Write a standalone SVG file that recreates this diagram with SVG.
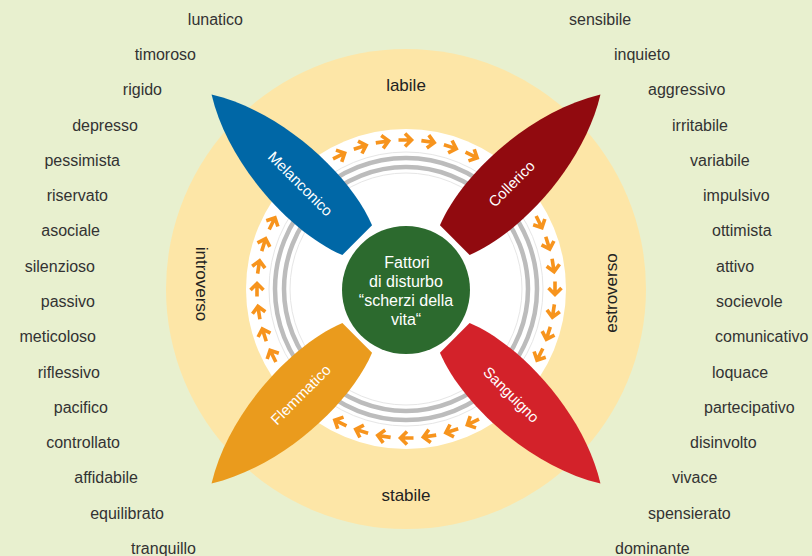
<svg xmlns="http://www.w3.org/2000/svg" xmlns:xlink="http://www.w3.org/1999/xlink" width="812" height="556" viewBox="0 0 812 556">
<style>
.w{font-family:"Liberation Sans",Arial,sans-serif;font-size:16px;fill:#333333}
.l{text-anchor:end}
.r{text-anchor:start}
.ax{font-family:"Liberation Sans",Arial,sans-serif;font-size:17px;fill:#222222;text-anchor:middle}
.pt{font-family:"Liberation Sans",Arial,sans-serif;font-size:15px;fill:#ffffff;text-anchor:middle;dominant-baseline:central}
.ct{font-family:"Liberation Sans",Arial,sans-serif;font-size:16px;fill:#ffffff;text-anchor:middle}
.ring{fill:none;stroke:#bcbcbc;stroke-width:4.5}
.faint{fill:none;stroke:#e6e6e6;stroke-width:1}
</style>
<defs>
<path id="petal" d="M69,-21 C118,-41 212,-39 275,0 C212,39 118,41 69,21 Z"/>
<path id="arr" d="M398.5,140 H411.5 M405,133.5 L411.5,140 L405,146.5" fill="none" stroke="#f7941d" stroke-width="3.6"/>
</defs>
<rect width="812" height="556" fill="#e8f0cf"/>
<g id="background">
<circle cx="406" cy="289" r="240" fill="#fde6a7"/>
<circle cx="406" cy="289" r="160" fill="#ffffff"/>
<circle class="faint" cx="406" cy="289" r="137"/>
<circle class="ring" cx="406" cy="289" r="131"/>
<circle class="ring" cx="406" cy="289" r="122"/>
<circle class="faint" cx="406" cy="289" r="116"/>
</g>
<g id="connectors">
<use xlink:href="#arr" transform="rotate(-26.4 406 289)"/>
<use xlink:href="#arr" transform="rotate(-17.6 406 289)"/>
<use xlink:href="#arr" transform="rotate(-8.8 406 289)"/>
<use xlink:href="#arr" transform="rotate(0 406 289)"/>
<use xlink:href="#arr" transform="rotate(8.8 406 289)"/>
<use xlink:href="#arr" transform="rotate(17.6 406 289)"/>
<use xlink:href="#arr" transform="rotate(26.4 406 289)"/>
<use xlink:href="#arr" transform="rotate(63.6 406 289)"/>
<use xlink:href="#arr" transform="rotate(72.4 406 289)"/>
<use xlink:href="#arr" transform="rotate(81.2 406 289)"/>
<use xlink:href="#arr" transform="rotate(90 406 289)"/>
<use xlink:href="#arr" transform="rotate(98.8 406 289)"/>
<use xlink:href="#arr" transform="rotate(107.6 406 289)"/>
<use xlink:href="#arr" transform="rotate(116.4 406 289)"/>
<use xlink:href="#arr" transform="rotate(153.6 406 289)"/>
<use xlink:href="#arr" transform="rotate(162.4 406 289)"/>
<use xlink:href="#arr" transform="rotate(171.2 406 289)"/>
<use xlink:href="#arr" transform="rotate(180 406 289)"/>
<use xlink:href="#arr" transform="rotate(188.8 406 289)"/>
<use xlink:href="#arr" transform="rotate(197.6 406 289)"/>
<use xlink:href="#arr" transform="rotate(206.4 406 289)"/>
<use xlink:href="#arr" transform="rotate(243.6 406 289)"/>
<use xlink:href="#arr" transform="rotate(252.4 406 289)"/>
<use xlink:href="#arr" transform="rotate(261.2 406 289)"/>
<use xlink:href="#arr" transform="rotate(270 406 289)"/>
<use xlink:href="#arr" transform="rotate(278.8 406 289)"/>
<use xlink:href="#arr" transform="rotate(287.6 406 289)"/>
<use xlink:href="#arr" transform="rotate(296.4 406 289)"/>
</g>
<g id="axis-labels">
<text class="ax" x="406" y="91">labile</text>
<text class="ax" x="406" y="501">stabile</text>
<text class="ax" transform="translate(196 284) rotate(90)">introverso</text>
<text class="ax" transform="translate(617 293) rotate(-90)">estroverso</text>
</g>
<g id="melanconico">
<use xlink:href="#petal" fill="#0067a6" transform="translate(406 289) rotate(-135)"/>
<text class="pt" transform="translate(300.6 183.6) rotate(45)">Melanconico</text>
</g>
<g id="collerico">
<use xlink:href="#petal" fill="#910a0f" transform="translate(406 289) rotate(-45)"/>
<text class="pt" transform="translate(511.4 183.6) rotate(-45)">Collerico</text>
</g>
<g id="sanguigno">
<use xlink:href="#petal" fill="#d3222a" transform="translate(406 289) rotate(45)"/>
<text class="pt" transform="translate(511.4 394.4) rotate(45)">Sanguigno</text>
</g>
<g id="flemmatico">
<use xlink:href="#petal" fill="#ea9b1d" transform="translate(406 289) rotate(135)"/>
<text class="pt" transform="translate(300.6 394.4) rotate(-45)">Flemmatico</text>
</g>
<g id="center">
<circle cx="406" cy="290" r="64" fill="#2c6a2e"/>
<text class="ct" x="407" y="267.5">Fattori</text>
<text class="ct" x="406" y="286.5">di disturbo</text>
<text class="ct" x="406" y="305.5">“scherzi della</text>
<text class="ct" x="406" y="324.5">vita“</text>
</g>
<g id="left-words">
<text class="w l" x="243" y="24.8">lunatico</text>
<text class="w l" x="196" y="60.1">timoroso</text>
<text class="w l" x="162" y="95.3">rigido</text>
<text class="w l" x="138" y="130.6">depresso</text>
<text class="w l" x="120" y="165.9">pessimista</text>
<text class="w l" x="108" y="201.2">riservato</text>
<text class="w l" x="100" y="236.4">asociale</text>
<text class="w l" x="95" y="271.7">silenzioso</text>
<text class="w l" x="95" y="307">passivo</text>
<text class="w l" x="96" y="342.2">meticoloso</text>
<text class="w l" x="100" y="377.5">riflessivo</text>
<text class="w l" x="108" y="412.8">pacifico</text>
<text class="w l" x="120" y="448">controllato</text>
<text class="w l" x="138" y="483.3">affidabile</text>
<text class="w l" x="164" y="518.6">equilibrato</text>
<text class="w l" x="196" y="553.9">tranquillo</text>
</g>
<g id="right-words">
<text class="w r" x="569" y="24.8">sensibile</text>
<text class="w r" x="614" y="60.1">inquieto</text>
<text class="w r" x="648" y="95.3">aggressivo</text>
<text class="w r" x="672" y="130.6">irritabile</text>
<text class="w r" x="690" y="165.9">variabile</text>
<text class="w r" x="703" y="201.2">impulsivo</text>
<text class="w r" x="712" y="236.4">ottimista</text>
<text class="w r" x="716" y="271.7">attivo</text>
<text class="w r" x="716" y="307">socievole</text>
<text class="w r" x="715" y="342.2">comunicativo</text>
<text class="w r" x="712" y="377.5">loquace</text>
<text class="w r" x="704" y="412.8">partecipativo</text>
<text class="w r" x="690" y="448">disinvolto</text>
<text class="w r" x="672" y="483.3">vivace</text>
<text class="w r" x="648" y="518.6">spensierato</text>
<text class="w r" x="615" y="553.9">dominante</text>
</g>
</svg>
